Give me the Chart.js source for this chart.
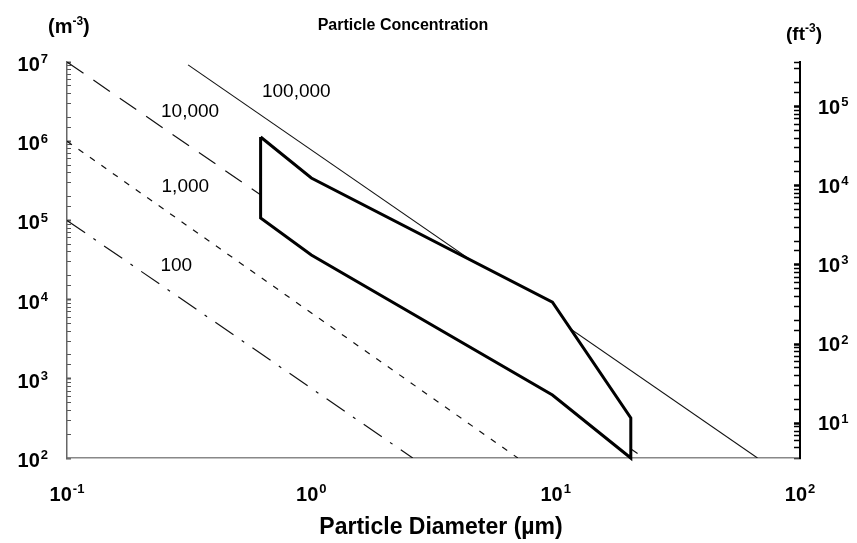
<!DOCTYPE html>
<html><head><meta charset="utf-8">
<script src="https://cdn.jsdelivr.net/npm/chart.js@4/dist/chart.umd.min.js"></script>
<style>html,body{margin:0;padding:0;background:#fff;}canvas{display:block;}</style>
</head><body>
<canvas id="c" width="857" height="543"></canvas>
<script>
// ---- data ----
const classNames = ['100,000', '10,000', '1,000', '100'];
const class100000 = [{x: 0.313, y: 9.2e6}, {x: 67, y: 100}];
const class10000  = [{x: 0.1, y: 1.0e7}, {x: 23, y: 100}];
const class1000   = [{x: 0.1, y: 1.0e6}, {x: 7.0, y: 100}];
const class100    = [{x: 0.1, y: 1.0e5}, {x: 2.6, y: 100}];
// anchor (diameter, concentration) of each class label
const classLabelAt = [{x: 0.868, y: 4.2e6}, {x: 0.319, y: 2.34e6}, {x: 0.305, y: 2.64e5}, {x: 0.28, y: 2.66e4}];
// measured envelope (closed outline)
const envelopeDiameter     = [0.62, 1.0, 9.7, 20.3, 20.3, 9.7, 1.0, 0.62, 0.62];
const envelopeConcentration = [1.13e6, 3.43e5, 9.3e3, 320, 100, 624, 3.66e4, 1.07e5, 1.13e6];
// axis tick exponents
const xTickExponents = [-1, 0, 1, 2];
const leftTickExponents = [2, 3, 4, 5, 6, 7];
const rightTickExponents = [1, 2, 3, 4, 5];
const m3PerFt3 = 27.4; // right-axis calibration as printed

const FONT = '"Liberation Sans", Arial, Helvetica, sans-serif';
const envelope = envelopeDiameter.map((d, i) => ({x: d, y: envelopeConcentration[i]}));

function drawPow(ctx, exp, x, y, align, size) {
  const base = '10', e = String(exp);
  const es = Math.round(size * 0.65);
  ctx.font = 'bold ' + size + 'px ' + FONT;
  const wb = ctx.measureText(base).width;
  ctx.font = 'bold ' + es + 'px ' + FONT;
  const we = ctx.measureText(e).width;
  const w = wb + 1 + we;
  let x0 = x;
  if (align === 'right') x0 = x - w; else if (align === 'center') x0 = x - w / 2;
  ctx.textAlign = 'left'; ctx.textBaseline = 'alphabetic';
  ctx.font = 'bold ' + size + 'px ' + FONT;
  ctx.fillText(base, x0, y);
  ctx.font = 'bold ' + es + 'px ' + FONT;
  ctx.fillText(e, x0 + wb + 1, y - size * 0.38);
}
function drawUnit(ctx, pre, x, y, size) {
  ctx.textAlign = 'left'; ctx.textBaseline = 'alphabetic';
  ctx.font = 'bold ' + size + 'px ' + FONT;
  ctx.fillText('(' + pre, x, y);
  let cx = x + ctx.measureText('(' + pre).width;
  ctx.font = 'bold ' + Math.round(size * 0.62) + 'px ' + FONT;
  ctx.fillText('-3', cx, y - size * 0.42);
  cx += ctx.measureText('-3').width;
  ctx.font = 'bold ' + size + 'px ' + FONT;
  ctx.fillText(')', cx, y);
}

const textPlugin = {
  id: 'texts',
  afterDraw(chart) {
    const ctx = chart.ctx;
    const xs = chart.scales.x, yl = chart.scales.y, yr = chart.scales.yR;
    ctx.save();
    ctx.fillStyle = '#000';
    xTickExponents.forEach(e => drawPow(ctx, e, xs.getPixelForValue(Math.pow(10, e)), 501, 'center', 20));
    leftTickExponents.forEach(e => drawPow(ctx, e, 48, yl.getPixelForValue(Math.pow(10, e)) + 9, 'right', 20));
    rightTickExponents.forEach(e => drawPow(ctx, e, 818, yr.getPixelForValue(Math.pow(10, e)) + 7, 'left', 20));
    // titles
    ctx.textAlign = 'center'; ctx.textBaseline = 'alphabetic';
    ctx.font = 'bold 16px ' + FONT;
    ctx.fillText('Particle Concentration', 403, 30);
    ctx.font = 'bold 23px ' + FONT;
    ctx.fillText('Particle Diameter (\u00b5m)', 441, 534);
    drawUnit(ctx, 'm', 48, 33, 20);
    drawUnit(ctx, 'ft', 786, 40, 19);
    // class labels
    ctx.font = '19px ' + FONT;
    ctx.textAlign = 'center'; ctx.textBaseline = 'middle';
    classNames.forEach((n, i) => {
      ctx.fillText(n, xs.getPixelForValue(classLabelAt[i].x), yl.getPixelForValue(classLabelAt[i].y));
    });
    ctx.restore();
  }
};

const isDecade = v => Math.abs(Math.log10(v) - Math.round(Math.log10(v))) < 1e-6;
const lineDs = (data, dash, w) => ({
  data, showLine: true, pointRadius: 0, borderColor: '#111', borderWidth: w,
  borderDash: dash, fill: false, order: 1, tension: 0
});

new Chart(document.getElementById('c'), {
  type: 'scatter',
  data: {
    datasets: [
      {data: envelope, showLine: true, pointRadius: 0, borderColor: '#000', borderWidth: 3,
       backgroundColor: '#ffffff', fill: 'shape', order: 0, tension: 0, clip: 6,
       borderJoinStyle: 'miter'},
      lineDs(class100000, [], 1.1),
      lineDs(class10000, [20, 12], 1.2),
      lineDs(class1000, [6, 8], 1.2),
      lineDs(class100, [22, 10, 3, 10], 1.2)
    ]
  },
  options: {
    responsive: false, animation: false, events: [],
    layout: {padding: {top: 62, left: 0, right: 0, bottom: 0}},
    plugins: {legend: {display: false}, tooltip: {enabled: false}, title: {display: false}},
    scales: {
      x: {
        type: 'logarithmic', min: 0.1, max: 100, position: 'bottom',
        ticks: {display: false}, grid: {display: false},
        border: {display: true, color: '#888', width: 1.5, dash: [14, 5, 3, 5]},
        afterFit: s => { s.height = 85; }
      },
      y: {
        type: 'logarithmic', min: 100, max: 1e7, position: 'left',
        ticks: {display: false},
        grid: {display: true, drawOnChartArea: false, drawTicks: true, tickLength: -4,
               color: '#555', tickWidth: c => (c.tick && isDecade(c.tick.value)) ? 2 : 1},
        border: {display: true, color: '#666', width: 1.5, dash: [2, 3]},
        afterFit: s => { s.width = 67; }
      },
      yR: {
        type: 'logarithmic', min: 100 / m3PerFt3, max: 1e7 / m3PerFt3, position: 'right',
        ticks: {display: false},
        grid: {display: true, drawOnChartArea: false, drawTicks: true, tickLength: -6,
               color: '#000', tickWidth: c => (c.tick && isDecade(c.tick.value)) ? 2.5 : 1.5},
        border: {display: true, color: '#000', width: 2},
        afterFit: s => { s.width = 57; }
      }
    }
  },
  plugins: [textPlugin]
});
</script>
</body></html>
